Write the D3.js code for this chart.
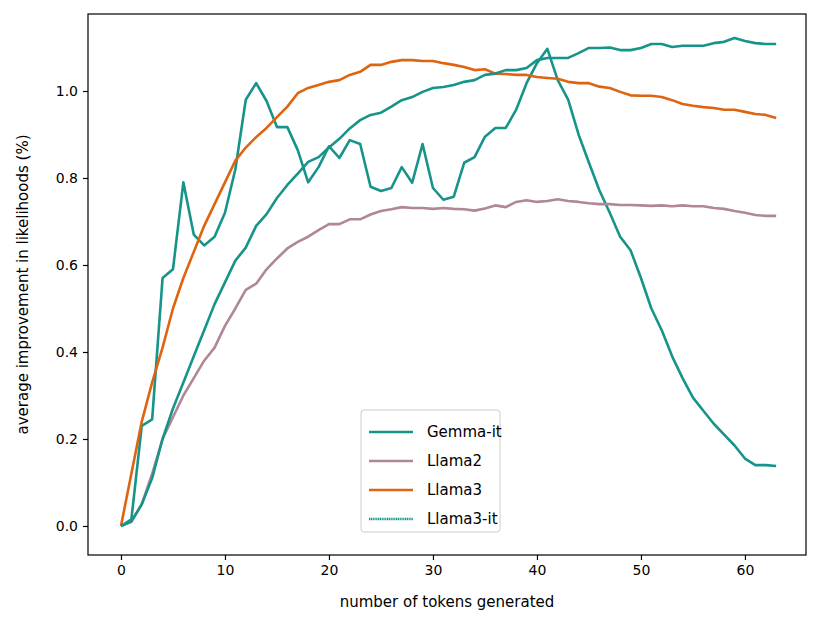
<!DOCTYPE html>
<html><head><meta charset="utf-8">
<script src="https://cdn.jsdelivr.net/npm/d3@7"></script>
<style>body{margin:0;background:#fff}text{font-family:"DejaVu Sans",sans-serif}</style>
</head><body><svg id="chart" width="822" height="626"></svg>
<script>
var gemmaIt = [0,0.015,0.23,0.245,0.57,0.59,0.79,0.67,0.645,0.665,0.72,0.82,0.98,1.018,0.977,0.917,0.917,0.864,0.79,0.825,0.873,0.846,0.887,0.878,0.78,0.77,0.777,0.825,0.789,0.878,0.777,0.75,0.757,0.835,0.848,0.895,0.915,0.915,0.957,1.018,1.064,1.097,1.025,0.98,0.9,0.835,0.772,0.72,0.665,0.634,0.57,0.5,0.45,0.39,0.34,0.295,0.265,0.235,0.21,0.185,0.155,0.14,0.14,0.138];
var llama2 = [0,0.01,0.05,0.12,0.2,0.25,0.3,0.34,0.38,0.41,0.46,0.5,0.543,0.557,0.59,0.615,0.638,0.653,0.665,0.68,0.694,0.694,0.705,0.705,0.716,0.724,0.728,0.733,0.731,0.731,0.729,0.731,0.729,0.728,0.725,0.73,0.737,0.733,0.745,0.749,0.745,0.747,0.751,0.747,0.745,0.742,0.74,0.74,0.738,0.738,0.737,0.736,0.737,0.735,0.737,0.735,0.735,0.731,0.729,0.724,0.72,0.715,0.713,0.713];
var llama3 = [0,0.12,0.24,0.33,0.41,0.5,0.57,0.63,0.69,0.74,0.79,0.84,0.87,0.894,0.915,0.94,0.964,0.995,1.007,1.014,1.021,1.025,1.037,1.044,1.06,1.06,1.067,1.071,1.071,1.069,1.069,1.064,1.06,1.055,1.048,1.05,1.04,1.039,1.037,1.037,1.032,1.03,1.028,1.021,1.018,1.018,1.01,1.007,0.998,0.99,0.989,0.989,0.986,0.979,0.97,0.966,0.963,0.961,0.957,0.957,0.952,0.947,0.945,0.938];
var llama3It = [0,0.01,0.05,0.11,0.2,0.27,0.33,0.39,0.45,0.51,0.56,0.61,0.64,0.69,0.717,0.754,0.784,0.81,0.837,0.848,0.87,0.89,0.914,0.933,0.945,0.95,0.964,0.979,0.986,0.998,1.007,1.009,1.014,1.021,1.025,1.037,1.04,1.048,1.048,1.053,1.071,1.076,1.076,1.076,1.087,1.099,1.099,1.1,1.094,1.094,1.099,1.108,1.108,1.101,1.104,1.104,1.104,1.11,1.113,1.122,1.115,1.11,1.108,1.108];
var seriesNames = ["Gemma-it","Llama2","Llama3","Llama3-it"];
var seriesData = [gemmaIt, llama2, llama3, llama3It];
var seriesColors = ["#17948a","#b08796","#de6410","#17948a"];
var xTicks = [0,10,20,30,40,50,60];
var yTicks = [0,0.2,0.4,0.6,0.8,1.0];

var pLeft = 88, pRight = 806, pTop = 14, pBottom = 555;
var svg = d3.select("#chart");
var x = d3.scaleLinear().domain([-3.17, 65.87]).range([pLeft, pRight]);
var y = d3.scaleLinear().domain([-0.0667, 1.177]).range([pBottom, pTop]);

var line = d3.line().x(function(d, i){ return x(i); }).y(function(d){ return y(d); });
seriesData.forEach(function(s, k){
  svg.append("path").attr("d", line(s)).attr("fill","none")
    .attr("stroke", seriesColors[k]).attr("stroke-width", 2.6)
    .attr("stroke-linejoin","round");
});

function styleAxis(g){
  g.select(".domain").remove();
  g.selectAll("text").attr("font-size",14).attr("font-family","DejaVu Sans").attr("fill","#000");
  g.selectAll("line").attr("stroke","#000").attr("stroke-width",1.2);
}
svg.append("g").attr("transform","translate(0,"+pBottom+")")
  .call(d3.axisBottom(x).tickValues(xTicks).tickFormat(d3.format("d")).tickSize(5).tickPadding(5))
  .call(styleAxis);
svg.append("g").attr("transform","translate("+pLeft+",0)")
  .call(d3.axisLeft(y).tickValues(yTicks).tickFormat(d3.format(".1f")).tickSize(5).tickPadding(5))
  .call(styleAxis);

svg.append("rect").attr("x",pLeft).attr("y",pTop).attr("width",pRight-pLeft).attr("height",pBottom-pTop)
  .attr("fill","none").attr("stroke","#000").attr("stroke-width",1.2);

svg.append("text").attr("x",(pLeft+pRight)/2).attr("y",607).attr("text-anchor","middle")
  .attr("font-size",15).text("number of tokens generated");
svg.append("text").attr("transform","translate(28,"+((pTop+pBottom)/2)+") rotate(-90)")
  .attr("text-anchor","middle").attr("font-size",15).text("average improvement in likelihoods (%)");

var lg = svg.append("g").attr("transform","translate(361,410)");
lg.append("rect").attr("width",139).attr("height",122).attr("rx",3)
  .attr("fill","#fff").attr("fill-opacity",0.8).attr("stroke","#ccc");
seriesNames.forEach(function(n, k){
  var yy = 22 + k*29;
  lg.append("line").attr("x1",8).attr("x2",52).attr("y1",yy).attr("y2",yy)
    .attr("stroke",seriesColors[k]).attr("stroke-width",2.6)
    .attr("stroke-dasharray", k===3 ? "1.2,0.6" : null);
  lg.append("text").attr("x",66).attr("y",yy+5).attr("font-size",15).text(n);
});
</script></body></html>
